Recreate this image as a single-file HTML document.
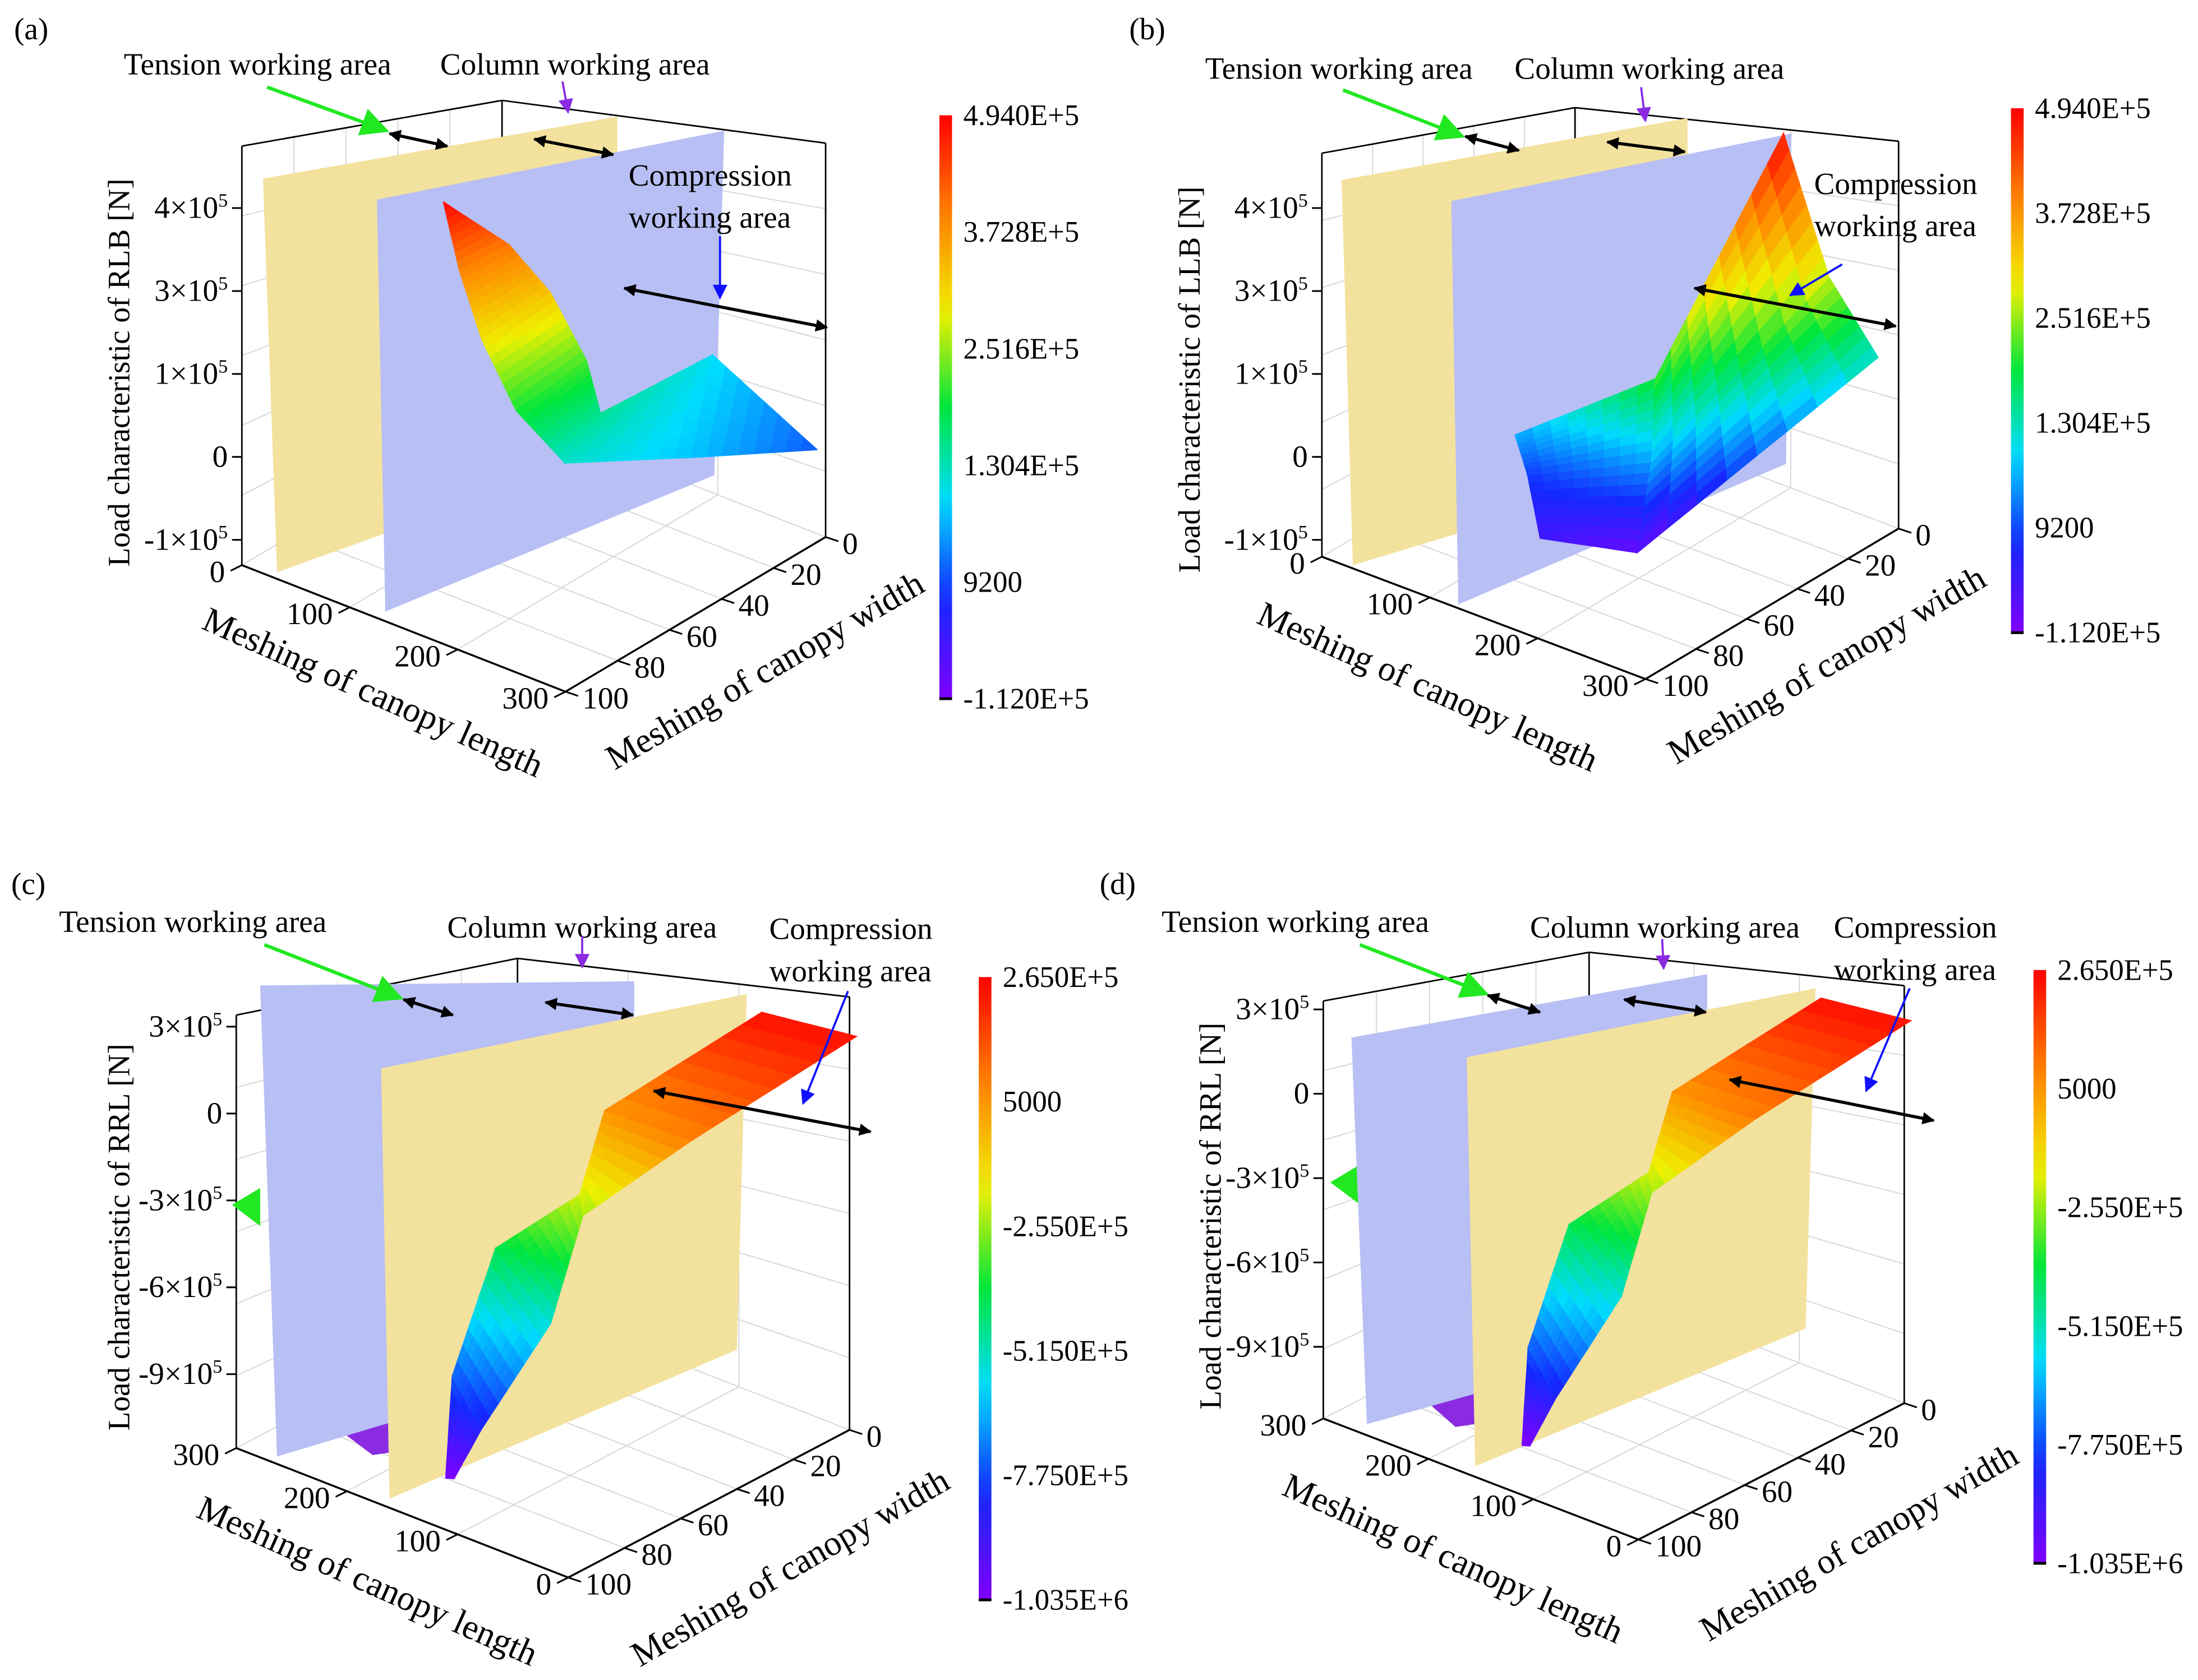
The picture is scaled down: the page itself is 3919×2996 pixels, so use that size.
<!DOCTYPE html>
<html><head><meta charset="utf-8">
<style>
html,body{margin:0;padding:0;background:#fff;}
svg{display:block;font-family:"Liberation Serif",serif;}
text{font-family:"Liberation Serif",serif;}
</style></head>
<body>
<svg id="fig" xmlns="http://www.w3.org/2000/svg" viewBox="0 0 1563 1195" width="3919" height="2996" preserveAspectRatio="none" font-family="Liberation Serif, serif">
<defs>
<marker id="mk" viewBox="0 0 10 10" refX="9" refY="5" markerWidth="4" markerHeight="4" orient="auto-start-reverse"><path d="M0,0L10,5L0,10z" fill="#000"/></marker>
<marker id="mg" viewBox="0 0 10 10" refX="9" refY="5" markerWidth="9" markerHeight="8" orient="auto"><path d="M0,0L10,5L0,10z" fill="#22e822"/></marker>
<marker id="mp" viewBox="0 0 10 10" refX="9" refY="5" markerWidth="9" markerHeight="7" orient="auto"><path d="M0,0L10,5L0,10z" fill="#8a2be2"/></marker>
<marker id="mb" viewBox="0 0 10 10" refX="9" refY="5" markerWidth="9" markerHeight="7" orient="auto"><path d="M0,0L10,5L0,10z" fill="#1010ff"/></marker>
</defs>
<rect x="0" y="0" width="1563" height="1195" fill="#fff"/>
</svg>
<script>
// ---------- data ----------
const cbLabelsAB = ["4.940E+5","3.728E+5","2.516E+5","1.304E+5","9200","-1.120E+5"];
const cbLabelsCD = ["2.650E+5","5000","-2.550E+5","-5.150E+5","-7.750E+5","-1.035E+6"];
const zTickLabelsAB = ["4×10^5","3×10^5","1×10^5","0","-1×10^5"];
const zTickValuesCD = [3,0,-3,-6,-9];
const zTickLabelsCD = ["3×10^5","0","-3×10^5","-6×10^5","-9×10^5"];
const lengthTicks = [0,100,200,300];
const widthTicks = [0,20,40,60,80,100];
// surface (a): rows of nodes, L = canopy length, W = canopy width, Z = load (1e5 N)
const surfA_L = [[153,163,184,206,232,272,297],[153,173,197,211,224,200,297]];
const surfA_W = [[86,84,84,80,72,40,2],[86,69,63,55,55,2,2]];
const surfA_Z = [[4.9,3.9,3.0,2.0,1.2,0.8,0.2],[4.9,4.0,3.3,2.2,1.5,1.0,0.2]];
// surface (b)
const surfB_L = [[104,220,245],[111,207,273],[146,189,281]];
const surfB_W = [[68,62,22],[66,58,16],[76,56,0]];
const surfB_Z = [[0.6,2.0,4.9],[0.0,0.6,2.8],[-0.5,-0.9,1.3]];
// surfaces (c) and (d)
const surfC_L = [[126,143,147,99,112,59],[121,104,87,91,23,-14]];
const surfC_W = [[94,85,68,57,43,8],[93,90,72,59,47,3]];
const surfC_Z = [[-10.3,-7.5,-4.0,-2.0,0.0,2.4],[-10.3,-8.5,-5.5,-2.5,0.5,2.4]];
const surfD_L = [[126,143,147,99,112,59],[121,104,87,91,23,-14]];
const surfD_W = [[94,85,68,57,43,8],[93,90,72,59,47,3]];
const surfD_Z = [[-10.3,-7.5,-4.0,-2.0,0.0,2.4],[-10.3,-8.5,-5.5,-2.5,0.5,2.4]];

// ---------- helpers ----------
const NS="http://www.w3.org/2000/svg";
const svg=document.getElementById('fig');
function mk(tag,attrs,parent){const e=document.createElementNS(NS,tag);for(const k in attrs)e.setAttribute(k,attrs[k]);(parent||svg).appendChild(e);return e;}
const stops=[[0,[128,0,255]],[0.17,[20,40,255]],[0.34,[0,220,255]],[0.5,[0,230,60]],[0.66,[240,240,0]],[0.83,[255,130,0]],[1,[255,0,0]]];
function cmap(t){t=Math.max(0,Math.min(1,t));for(let i=1;i<stops.length;i++){if(t<=stops[i][0]){const a=stops[i-1],b=stops[i];const f=(t-a[0])/(b[0]-a[0]);const c=a[1].map((v,j)=>Math.round(v+(b[1][j]-v)*f));return `rgb(${c[0]},${c[1]},${c[2]})`;}}return 'rgb(255,0,0)';}
function txt(parent,x,y,str,size,anchor,name,rot){
  const t=mk('text',{x:x,y:y,'font-size':size,'text-anchor':anchor||'start',fill:'#000','font-family':'Liberation Serif, serif'},parent);
  
  
  if(rot!==undefined)t.setAttribute('transform',`rotate(${rot} ${x} ${y})`);
  const parts=str.split('^');
  t.appendChild(document.createTextNode(parts[0]));
  if(parts[1]){const s=mk('tspan',{dy:-8,'font-size':size*0.62},t);s.textContent=parts[1];}
  return t;
}
function line(parent,x1,y1,x2,y2,stroke,w,name){
  const l=mk('line',{x1:x1,y1:y1,x2:x2,y2:y2,stroke:stroke,'stroke-width':w},parent);
  
  
  return l;
}
function makeProj(p){return function(L,W,Z){const Lp=p.rev?300-L:L;const D=100-W;return [p.ox+p.lx*Lp+p.dx*D, p.oy+p.ly*Lp+p.dy*D-p.cz*(Z-p.zmin)];};}
function makeBoxProj(p){return function(L,W,Z){const Lp=p.rev?300-L:L;const D=100-W;const u=Lp/300,v=D/100;
  const ff=p.fr+1-p.fb;const f=(1*(1-u)+ff*u)*(1-v)+(p.fb*(1-u)+p.fr*u)*v;
  return [p.ox+p.lx*Lp+p.dx*D, p.oy+p.ly*Lp+p.dy*D-p.cz*f*(Z-p.zmin)];};}

function drawBox(g,P,p){
  const zb=p.zmin, zt=p.ztop;
  const c0=p.rev?[300,100]:[0,100], cb=p.rev?[300,0]:[0,0], cr=p.rev?[0,0]:[300,0], cf=p.rev?[0,100]:[300,100];
  const grid='#d8d8d8';
  for(let k=1;k<=5;k++){const z=zb+(zt-zb)*k/6;
    let a=P(c0[0],c0[1],z),b=P(cb[0],cb[1],z),c=P(cr[0],cr[1],z);
    line(g,a[0],a[1],b[0],b[1],grid,0.8,'grid-line');line(g,b[0],b[1],c[0],c[1],grid,0.8,'grid-line');}
  lengthTicks.forEach(L=>{let a=P(L,0,zb),b=P(L,0,zt);line(g,a[0],a[1],b[0],b[1],grid,0.8,'grid-line');let c=P(L,100,zb);line(g,a[0],a[1],c[0],c[1],grid,0.8,'grid-line');});
  widthTicks.forEach(W=>{let a=P(c0[0],W,zb),b=P(c0[0],W,zt);line(g,a[0],a[1],b[0],b[1],grid,0.8,'grid-line');let c=P(cr[0],W,zb);line(g,a[0],a[1],c[0],c[1],grid,0.8,'grid-line');});
  [c0,cb,cr].forEach(c=>{let a=P(c[0],c[1],zb),b=P(c[0],c[1],zt);line(g,a[0],a[1],b[0],b[1],'#000',1.1,'box-vertical-edge');});
  let a=P(c0[0],c0[1],zt),b=P(cb[0],cb[1],zt),c=P(cr[0],cr[1],zt);
  line(g,a[0],a[1],b[0],b[1],'#000',1.1,'box-top-edge');line(g,b[0],b[1],c[0],c[1],'#000',1.1,'box-top-edge');
  a=P(c0[0],c0[1],zb);b=P(cf[0],cf[1],zb);c=P(cr[0],cr[1],zb);
  line(g,a[0],a[1],b[0],b[1],'#000',1.4,'length-axis-line');line(g,b[0],b[1],c[0],c[1],'#000',1.4,'width-axis-line');
}
function drawTicks(g,P,p){
  lengthTicks.forEach(L=>{const a=P(L,100,p.zmin);line(g,a[0],a[1],a[0]-8,a[1]+4,'#000',1.2,'length-tick');
    txt(g,a[0]-12,a[1]+12,String(L),22,'end','length-tick-label');});
  const Le=p.rev?0:300;
  widthTicks.forEach(W=>{const a=P(Le,W,p.zmin);line(g,a[0],a[1],a[0]+9,a[1]+3,'#000',1.2,'width-tick');
    txt(g,a[0]+12,a[1]+12,String(W),22,'start','width-tick-label');});
}
function drawSurface(g,P,p,Ls,Ws,Zs){
  const n=8;
  for(let r=Ls.length-2;r>=0;r--){
    for(let c=0;c<Ls[r].length-1;c++){
      for(let i=0;i<n;i++)for(let j=0;j<n;j++){
        const q=(u,v)=>{const f=(A)=>{const a=A[r][c],b=A[r][c+1],d=A[r+1][c],e=A[r+1][c+1];return (a*(1-u)+b*u)*(1-v)+(d*(1-u)+e*u)*v;};return [f(Ls),f(Ws),f(Zs)];};
        const corners=[[i/n,j/n],[(i+1)/n,j/n],[(i+1)/n,(j+1)/n],[i/n,(j+1)/n]].map(uv=>q(uv[0],uv[1]));
        const zavg=corners.reduce((s,k)=>s+k[2],0)/4;
        const col=cmap((zavg-p.cmin)/(p.cmax-p.cmin));
        const pts=corners.map(k=>P(k[0],k[1],k[2]).map(v=>v.toFixed(1)).join(',')).join(' ');
        const poly=mk('polygon',{points:pts,fill:col,stroke:col,'stroke-width':0.7},g);
        
        
      }
    }
  }
}
function plane(g,pts,fill,name){
  const e=mk('polygon',{points:pts,fill:fill},g);
  
  
}
function colorbar(g,x,y0,y1,labels,id){
  const lg=mk('linearGradient',{id:id,x1:0,y1:1,x2:0,y2:0},svg.querySelector('defs'));
  for(let k=0;k<=20;k++){mk('stop',{offset:k/20,'stop-color':cmap(k/20)},lg);}
  const r=mk('rect',{x:x,y:y0,width:9,height:y1-y0,fill:`url(#${id})`},g);
  
  
  line(g,x,y1,x+9,y1,'#000',2,'colorbar-end');
  labels.forEach((s,i)=>{const y=y0+(y1-y0)*i/(labels.length-1);txt(g,x+17,y+7,s,21,'start','colorbar-label');});
}
function arrow(g,x1,y1,x2,y2,color,w,marker,dbl,name){
  const l=mk('line',{x1:x1,y1:y1,x2:x2,y2:y2,stroke:color,'stroke-width':w,'marker-end':`url(#${marker})`},g);
  if(dbl)l.setAttribute('marker-start',`url(#${marker})`);
  
  
}

// ---------- panels ----------
const panels=[
 {id:'a',tag:'(a)',tx:10,ty:28,ox:172,oy:402,lx:0.767,ly:0.3,dx:1.85,dy:-1.1,cz:48,zmin:-1.12,ztop:5.09,fb:0.74,fr:0.94,rev:false,cmin:-1.12,cmax:4.94,
  L:surfA_L,W:surfA_W,Z:surfA_Z,cbx:668,cb0:82,cb1:497,cbl:cbLabelsAB,zt:'Load characteristic of RLB  [N]',ztx:92,zty:265,
  ltx:262,lty:500,wtx:548,wty:484,
  yellow:"197,407 187,127 439,83 439,320",lav:"274,435 268,142 515,93 508,338",order:'yl',
  ann:[["Tension working area",88,53],["Column working area",313,53],["Compression",447,132],["working area",447,162]],
  arr:[[190,62,275,93,'#22e822',2.5,'mg'],[400,58,404,80,'#8a2be2',1.5,'mp'],[512,168,512,212,'#1010ff',1.5,'mb']],
  dbl:[[277,95,318,104],[380,99,436,110],[444,205,588,233]]},
 {id:'b',tag:'(b)',tx:803,ty:28,ox:940,oy:396,lx:0.767,ly:0.29,dx:1.8,dy:-1.07,cz:48,zmin:-1.12,ztop:4.86,fb:0.74,fr:0.96,rev:false,cmin:-1.12,cmax:4.94,
  L:surfB_L,W:surfB_W,Z:surfB_Z,cbx:1430,cb0:77,cb1:450,cbl:cbLabelsAB,zt:'Load characteristic of LLB  [N]',ztx:853,zty:270,
  ltx:1012,lty:496,wtx:1303,wty:480,
  yellow:"962,402 954,128 1200,84 1200,330",lav:"1037,430 1032,143 1274,95 1270,330",order:'yl',
  ann:[["Tension working area",857,56],["Column working area",1077,56],["Compression",1290,138],["working area",1290,168]],
  arr:[[955,64,1040,97,'#22e822',2.5,'mg'],[1167,62,1170,86,'#8a2be2',1.5,'mp'],[1310,188,1273,210,'#1010ff',1.5,'mb']],
  dbl:[[1042,97,1080,107],[1143,101,1198,108],[1205,205,1348,232]]},
 {id:'c',tag:'(c)',tx:8,ty:636,ox:168,oy:1030,lx:0.787,ly:0.307,dx:2.0,dy:-1.05,cz:20.6,zmin:-11.55,ztop:3.4,fb:0.79,fr:1.0,rev:true,cmin:-10.35,cmax:2.65,
  L:surfC_L,W:surfC_W,Z:surfC_Z,cbx:696,cb0:695,cb1:1138,cbl:cbLabelsCD,zt:'Load characteristic of RRL  [N]',ztx:92,zty:880,
  ltx:258,lty:1132,wtx:566,wty:1122,
  yellow:"277,1066 271,760 531,707 524,960",lav:"197,1036 185,701 451,698 451,960",order:'ly',
  ann:[["Tension working area",42,663],["Column working area",318,667],["Compression",547,668],["working area",547,698]],
  arr:[[188,672,285,710,'#22e822',2.5,'mg'],[414,666,414,688,'#8a2be2',1.5,'mp'],[603,705,571,785,'#1010ff',1.5,'mb']],
  dbl:[[287,711,322,722],[388,713,450,722],[465,776,619,805]],
  extra:[["165,857 185,845 185,872",'#22e822'],["245,1020 270,1000 300,1030 265,1035",'#8a2be2']]},
 {id:'d',tag:'(d)',tx:782,ty:636,ox:941,oy:1009,lx:0.747,ly:0.287,dx:1.89,dy:-0.97,cz:20,zmin:-11.55,ztop:3.3,fb:0.79,fr:1.0,rev:true,cmin:-10.35,cmax:2.65,
  L:surfD_L,W:surfD_W,Z:surfD_Z,cbx:1446,cb0:690,cb1:1112,cbl:cbLabelsCD,zt:'Load characteristic of RRL  [N]',ztx:868,zty:865,
  ltx:1030,lty:1116,wtx:1326,wty:1104,
  yellow:"1049,1043 1043,752 1291,703 1284,945",lav:"972,1013 961,738 1214,693 1214,945",order:'ly',
  ann:[["Tension working area",826,663],["Column working area",1088,667],["Compression",1304,667],["working area",1304,697]],
  arr:[[967,672,1057,707,'#22e822',2.5,'mg'],[1182,668,1183,689,'#8a2be2',1.5,'mp'],[1358,703,1327,776,'#1010ff',1.5,'mb']],
  dbl:[[1058,708,1095,720],[1155,711,1213,720],[1230,768,1375,797]],
  extra:[["946,841 966,829 966,856",'#22e822'],["1018,1000 1042,982 1070,1010 1035,1015",'#8a2be2']]}
];

panels.forEach(p=>{
  const g=mk('g',{});
  
  
  const P=makeProj(p);
  const PB=makeBoxProj(p);
  txt(g,p.tx,p.ty,p.tag,22,'start','panel-label-'+p.id);
  drawBox(g,PB,p);
  (p.extra||[]).forEach(e=>plane(g,e[0],e[1],'hidden-surface-fragment'));
  if(p.order==='yl'){plane(g,p.yellow,'#f3e19e','tension-plane');plane(g,p.lav,'#b7bff4','compression-plane');}
  else{plane(g,p.lav,'#b7bff4','tension-plane');plane(g,p.yellow,'#f3e19e','compression-plane');}
  const sg=mk('g',{},g);
  
  
  drawSurface(sg,P,p,p.L,p.W,p.Z);
  drawTicks(g,P,p);
  const c0=p.rev?[300,100]:[0,100];
  if(p.id==='a'||p.id==='b'){
    zTickLabelsAB.forEach((s,i)=>{const base=P(c0[0],c0[1],p.zmin);const y=148+i*59;
      line(g,base[0],y,base[0]-7,y,'#000',1.2,'z-tick');txt(g,base[0]-10,y+7,s,22,'end','z-tick-label');});
  } else {
    zTickValuesCD.forEach((z,i)=>{const a=P(c0[0],c0[1],z);
      line(g,a[0],a[1],a[0]-7,a[1],'#000',1.2,'z-tick');txt(g,a[0]-10,a[1]+7,zTickLabelsCD[i],22,'end','z-tick-label');});
  }
  txt(g,p.ztx,p.zty,p.zt,22,'middle','z-axis-title',-90);
  txt(g,p.ltx,p.lty,'Meshing of canopy length',25,'middle','length-axis-title',24);
  txt(g,p.wtx,p.wty,'Meshing of canopy width',25,'middle','width-axis-title',-30);
  colorbar(g,p.cbx,p.cb0,p.cb1,p.cbl,'grad-'+p.id);
  p.ann.forEach(a=>txt(g,a[1],a[2],a[0],22,'start','annotation-text'));
  p.arr.forEach(a=>arrow(g,a[0],a[1],a[2],a[3],a[4],a[5],a[6],false,'annotation-arrow'));
  p.dbl.forEach(a=>arrow(g,a[0],a[1],a[2],a[3],'#000',2.2,'mk',true,'working-area-span-arrow'));
});
</script>
</body></html>
